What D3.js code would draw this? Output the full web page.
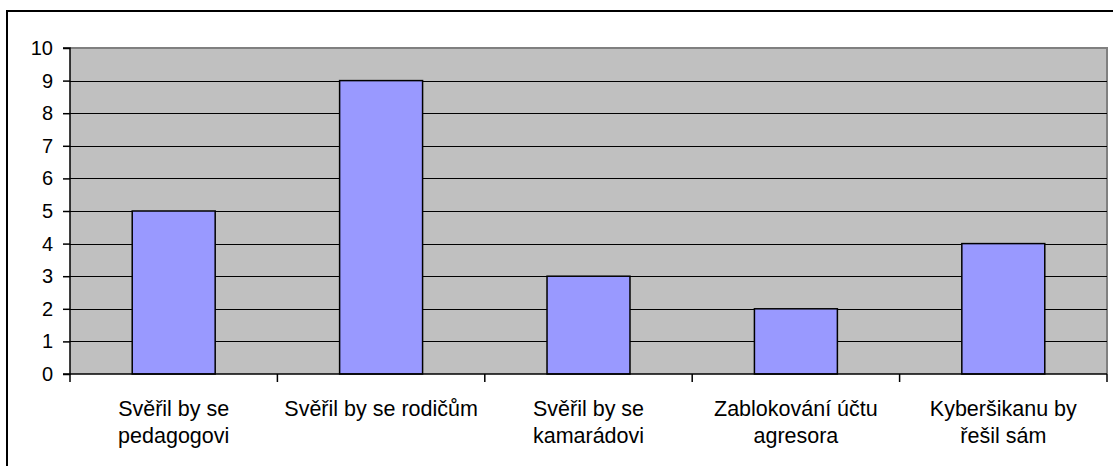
<!DOCTYPE html>
<html>
<head>
<meta charset="utf-8">
<script src="https://cdn.jsdelivr.net/npm/d3@7"></script>
<style>
html,body{margin:0;padding:0;background:#fff;overflow:hidden;}
svg{display:block;font-family:Arial,"Liberation Sans",sans-serif;}
</style>
</head>
<body>
<svg id="c" width="1113" height="466"></svg>
<script>
const categories = [
  ["Svěřil by se", "pedagogovi"],
  ["Svěřil by se rodičům"],
  ["Svěřil by se", "kamarádovi"],
  ["Zablokování účtu", "agresora"],
  ["Kyberšikanu by", "řešil sám"]
];
const values = [5, 9, 3, 2, 4];
const yTicks = [0,1,2,3,4,5,6,7,8,9,10];

const svg = d3.select("#c");
const L = 70, R = 1107, T = 48, B = 374;

// outer frame (extends past the right/bottom edges)
svg.append("rect").attr("x",7).attr("y",11).attr("width",1120).attr("height",470)
  .attr("fill","#fff").attr("stroke","#000").attr("stroke-width",2);

const x = d3.scaleBand().domain(d3.range(categories.length)).range([L,R]).paddingInner(0).paddingOuter(0);
const y = d3.scaleLinear().domain([0,10]).range([B,T]);

// plot area
svg.append("rect").attr("x",L).attr("y",T).attr("width",R-L).attr("height",B-T).attr("fill","#c0c0c0");
// plot border top/right gray
svg.append("path").attr("d",`M${L},${T}H${R}V${B}`).attr("fill","none").attr("stroke","#808080").attr("stroke-width",2);

// gridlines
svg.append("g").selectAll("line").data(yTicks.filter(t=>t>0 && t<10)).join("line")
  .attr("x1",L).attr("x2",R).attr("y1",d=>Math.round(y(d))+0.5).attr("y2",d=>Math.round(y(d))+0.5)
  .attr("stroke","#000").attr("stroke-width",1);

// bars
const bw = x.bandwidth()*0.4;
svg.append("g").selectAll("rect").data(values).join("rect")
  .attr("x",(d,i)=>x(i)+x.bandwidth()/2-bw/2)
  .attr("y",d=>y(d))
  .attr("width",bw)
  .attr("height",d=>B-y(d))
  .attr("fill","#9999ff").attr("stroke","#000").attr("stroke-width",1.5);

// y axis
const yAxis = d3.axisLeft(y).tickValues(yTicks).tickSize(7).tickPadding(10).tickFormat(d3.format("d"));
const gy = svg.append("g").attr("transform",`translate(${L},0)`).call(yAxis);
gy.select(".domain").attr("stroke","#000").attr("stroke-width",1.5).attr("d",`M-7,${T}H0V${B}H-7`);
gy.selectAll(".tick line").attr("stroke","#000").attr("stroke-width",1.5);
gy.selectAll(".tick text").attr("font-size",20).attr("fill","#000").attr("font-family","Arial, 'Liberation Sans', sans-serif");

// x axis line and ticks at category boundaries
svg.append("line").attr("x1",L).attr("x2",R).attr("y1",B).attr("y2",B).attr("stroke","#000").attr("stroke-width",1.5);
const bounds = d3.range(categories.length+1).map(i=> i<categories.length ? x(i) : R);
svg.append("g").selectAll("line").data(bounds).join("line")
  .attr("x1",d=>d).attr("x2",d=>d).attr("y1",B).attr("y2",B+8)
  .attr("stroke","#000").attr("stroke-width",1.5);

// category labels
const lab = svg.append("g").attr("font-size",21.5).attr("fill","#000").attr("text-anchor","middle");
categories.forEach((lines,i)=>{
  const t = lab.append("text").attr("x",x(i)+x.bandwidth()/2).attr("y",416);
  lines.forEach((s,j)=>{
    t.append("tspan").attr("x",x(i)+x.bandwidth()/2).attr("dy",j===0?0:27).text(s);
  });
});
</script>
</body>
</html>
